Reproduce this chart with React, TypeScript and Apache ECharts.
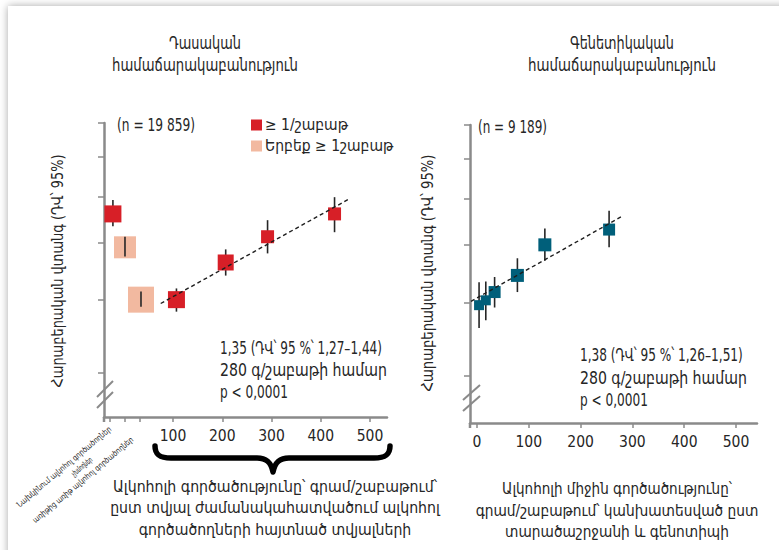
import React, { useEffect, useRef } from "react";
import * as echarts from "echarts";

// ---------- texts ----------
const leftTitle = ["Դասական", "համաճարակաբանություն"];
const rightTitle = ["Գենետիկական", "համաճարակաբանություն"];
const yAxisTitle = "Հարաբերական վտանգ (ԴՎ՝ 95%)";
const leftN = "(n = 19 859)";
const rightN = "(n = 9 189)";
const legendRed = "≥ 1/շաբաթ";
const legendPeach = "Երբեք ≥ 1շաբաթ";
const leftNote = ["1,35 (ԴՎ՝ 95 %՝ 1,27–1,44)", "280 գ/շաբաթի համար", "p < 0,0001"];
const rightNote = ["1,38 (ԴՎ՝ 95 %՝ 1,26–1,51)", "280 գ/շաբաթի համար", "p < 0,0001"];
const leftXTitle = [
  "Ալկոհոլի գործածությունը՝ գրամ/շաբաթում՝",
  "ըստ տվյալ ժամանակահատվածում ալկոհոլ",
  "գործածողների հայտնած տվյալների",
];
const rightXTitle = [
  "Ալկոհոլի միջին գործածությունը՝",
  "գրամ/շաբաթում՝ կանխատեսված ըստ",
  "տարածաշրջանի և գենոտիպի",
];
const categoryLabels = [
  "Նախկինում ալկոհոլ գործածողներ",
  "չխմողներ",
  "առիթից առիթ ալկոհոլ գործածողներ",
];

// ---------- axes ----------
const xLabelValues = [100, 200, 300, 400, 500];
const rightXLabelValues = [0, 100, 200, 300, 400, 500];
const leftXTicks = [-28, 2.5, 33, 100, 200, 300, 400, 500];
const yTickRR = [0.75, 1, 1.25, 1.5, 1.75, 2];
const leftXRange = [-40.1, 534.5];
const rightXRange = [-13.5, 540.5];
const leftYRange = [0.631, 2.0];
const rightYRange = [0.624, 2.0];

// ---------- data: classical epidemiology ----------
// former drinkers, then grams/week groups
const leftRedX = [-22, 107, 207, 292, 428];
const leftRedRR = [1.4, 1.0, 1.157, 1.28, 1.4];
const leftRedLo = [1.334, 0.954, 1.099, 1.199, 1.303];
const leftRedHi = [1.478, 1.045, 1.218, 1.366, 1.495];
const leftRedBox = [17, 17, 16, 13, 13];
// never drinkers, occasional drinkers
const leftPeachX = [2.5, 35];
const leftPeachRR = [1.228, 1.0];
const leftPeachLo = [1.185, 0.973];
const leftPeachHi = [1.28, 1.032];
const leftPeachBox = [22, 26];
const leftFitX = [75, 456];
const leftFitRR = [0.985, 1.482];

// ---------- data: genetic epidemiology ----------
const rightX = [4, 17, 34, 78, 131, 255];
const rightRR = [0.989, 1.008, 1.041, 1.111, 1.252, 1.329];
const rightLo = [0.905, 0.932, 0.98, 1.041, 1.177, 1.24];
const rightHi = [1.082, 1.085, 1.104, 1.188, 1.335, 1.43];
const rightBox = [10, 10, 12, 13, 13, 12];
const rightFitX = [-11.6, 279];
const rightFitRR = [1.004, 1.398];

const RED = "#d71f27";
const PEACH = "#f2b9a0";
const TEAL = "#005f7a";
const AXIS = "#8a8a8a";
const TEXT = "#262626";
const FONT = "'DejaVu Sans Condensed', 'DejaVu Sans', sans-serif";

const L = (v: number) => Math.log10(v);

echarts.graphic.registerShape(
  "brace",
  echarts.graphic.extendPath(
    "M2,0 C2,9 7,12 18,12 L104,12 C113,12 118,16 120,26 C122,16 127,12 136,12 L221,12 C232,12 237,9 237,0",
    {}
  )
);

let ctx: CanvasRenderingContext2D | null = null;
function measure(t: string, size: number) {
  if (!ctx) ctx = document.createElement("canvas").getContext("2d");
  if (!ctx) return t.length * size * 0.55;
  ctx.font = `${size}px ${FONT}`;
  return ctx.measureText(t).width;
}

function boxes(xs: number[], rr: number[], size: number[]) {
  return xs.map((x, i) => ({ value: [x, L(rr[i])], symbolSize: size[i] }));
}
function bars(xs: number[], lo: number[], hi: number[]) {
  return xs.map((x, i) => [x, L(lo[i]), L(hi[i])]);
}
function fit(xs: number[], rr: number[]) {
  return xs.map((x, i) => [x, L(rr[i])]);
}

const errRender = (params: any, api: any) => {
  const x = api.value(0);
  const p1 = api.coord([x, api.value(1)]);
  const p2 = api.coord([x, api.value(2)]);
  return {
    type: "line",
    shape: { x1: p1[0], y1: p1[1], x2: p2[0], y2: p2[1] },
    style: { stroke: "#262626", lineWidth: 1.6 },
  };
};

function xAxisCfg(range: number[], labels: number[], ticks: number[]) {
  return {
    type: "value",
    min: range[0],
    max: range[1],
    axisLine: { show: true, onZero: false, lineStyle: { color: AXIS, width: 2.5 } },
    axisTick: { show: true, customValues: ticks, length: 5, lineStyle: { color: AXIS, width: 1.5 } },
    axisLabel: { customValues: labels, fontSize: 15.5, color: TEXT, margin: 11, fontFamily: FONT },
    splitLine: { show: false },
  };
}
function yAxisCfg(range: number[], gridIndex: number) {
  return {
    type: "value",
    gridIndex,
    min: L(range[0]),
    max: L(range[1]),
    axisLine: { show: true, onZero: false, lineStyle: { color: AXIS, width: 2.5 } },
    axisTick: { show: true, customValues: yTickRR.map(L), length: 6, lineStyle: { color: AXIS, width: 1.5 } },
    axisLabel: { show: false },
    splitLine: { show: false },
  };
}

// one text line squeezed to the reference's condensed width
function fitText(text: string, x: number, y: number, align: string, size: number, width: number, rotation = 0) {
  const w = measure(text, size);
  return {
    type: "text",
    x,
    y,
    rotation,
    scaleX: w > 0 ? width / w : 1,
    z: 10,
    style: { text, fill: TEXT, fontSize: size, fontFamily: FONT, align, verticalAlign: "middle" },
  };
}
function block(lines: string[], x: number, y0: number, lh: number, align: string, size: number, widths: number[]) {
  return lines.map((t, i) => fitText(t, x, y0 + i * lh, align, size, widths[i]));
}

export default function App() {
  const ref = useRef<HTMLDivElement>(null);
  useEffect(() => {
    if (!ref.current) return;
    const chart = echarts.init(ref.current, null, { renderer: "svg" });
    const ang = (40 * Math.PI) / 180;
    const catPos = [
      [64, 467],
      [82, 467],
      [83, 480],
    ];
    const catWidths = [121, 25, 129];
    const option: any = {
      animation: false,
      backgroundColor: "transparent",
      grid: [
        { left: 104, top: 123, width: 283, height: 294 },
        { left: 470, top: 125, width: 287, height: 298 },
      ],
      xAxis: [
        { ...xAxisCfg(leftXRange, xLabelValues, leftXTicks), gridIndex: 0 },
        { ...xAxisCfg(rightXRange, rightXLabelValues, rightXLabelValues), gridIndex: 1 },
      ],
      yAxis: [yAxisCfg(leftYRange, 0), yAxisCfg(rightYRange, 1)],
      legend: {
        data: [legendRed, legendPeach],
        orient: "vertical",
        left: 251,
        top: 115,
        padding: 0,
        icon: "rect",
        itemWidth: 11,
        itemHeight: 11,
        itemGap: 1,
        textStyle: { fontSize: 15.5, color: TEXT, fontFamily: FONT, lineHeight: 20, padding: [0, 0, 0, -2] },
      },
      series: [
        {
          type: "custom",
          name: "redErr",
          xAxisIndex: 0,
          yAxisIndex: 0,
          z: 1,
          renderItem: errRender,
          encode: { x: 0, y: [1, 2] },
          data: bars(leftRedX, leftRedLo, leftRedHi),
        },
        {
          type: "scatter",
          name: legendRed,
          xAxisIndex: 0,
          yAxisIndex: 0,
          symbol: "rect",
          z: 2,
          itemStyle: { color: RED, opacity: 1 },
          data: boxes(leftRedX, leftRedRR, leftRedBox),
        },
        {
          type: "scatter",
          name: legendPeach,
          xAxisIndex: 0,
          yAxisIndex: 0,
          symbol: "rect",
          z: 2,
          itemStyle: { color: PEACH, opacity: 1 },
          data: boxes(leftPeachX, leftPeachRR, leftPeachBox),
        },
        {
          type: "custom",
          name: "peachErr",
          xAxisIndex: 0,
          yAxisIndex: 0,
          z: 3,
          renderItem: errRender,
          encode: { x: 0, y: [1, 2] },
          data: bars(leftPeachX, leftPeachLo, leftPeachHi),
        },
        {
          type: "line",
          name: "leftFit",
          xAxisIndex: 0,
          yAxisIndex: 0,
          z: 4,
          symbol: "none",
          lineStyle: { color: "#1e1e1e", width: 1.4, type: [4, 3] },
          data: fit(leftFitX, leftFitRR),
        },
        {
          type: "custom",
          name: "tealErr",
          xAxisIndex: 1,
          yAxisIndex: 1,
          z: 1,
          renderItem: errRender,
          encode: { x: 0, y: [1, 2] },
          data: bars(rightX, rightLo, rightHi),
        },
        {
          type: "scatter",
          name: "genetic",
          xAxisIndex: 1,
          yAxisIndex: 1,
          symbol: "rect",
          z: 2,
          itemStyle: { color: TEAL, opacity: 1 },
          data: boxes(rightX, rightRR, rightBox),
        },
        {
          type: "line",
          name: "rightFit",
          xAxisIndex: 1,
          yAxisIndex: 1,
          z: 4,
          symbol: "none",
          lineStyle: { color: "#1e1e1e", width: 1.4, type: [4, 3] },
          data: fit(rightFitX, rightFitRR),
        },
      ],
      graphic: [
        ...block(leftTitle, 205, 43, 22, "center", 17, [72, 186]),
        ...block(rightTitle, 622, 43, 22, "center", 17, [104, 188]),
        fitText(leftN, 117, 125, "left", 17, 78),
        fitText(rightN, 478, 127, "left", 17, 69),
        ...block(leftNote, 220, 348, 22, "left", 18, [162, 167, 68]),
        ...block(rightNote, 580, 355, 22.5, "left", 18, [163, 167, 68]),
        ...block(leftXTitle, 275, 486, 21.5, "center", 16, [324, 330, 273]),
        ...block(rightXTitle, 617, 489, 21, "center", 16, [230, 283, 224]),
        fitText(yAxisTitle, 58, 271, "center", 16, 233, Math.PI / 2),
        fitText(yAxisTitle, 428, 273, "center", 16, 237, Math.PI / 2),
        ...categoryLabels.map((t, i) => fitText(t, catPos[i][0], catPos[i][1], "center", 8, catWidths[i], ang)),
        {
          type: "brace",
          x: 153,
          y: 446,
          z: 10,
          style: { fill: "none", stroke: "#000", lineWidth: 5.5, lineCap: "round", lineJoin: "round" },
        },
        ...[
          [97, 397, 113, 381],
          [97, 408, 113, 392],
          [463, 400, 480, 385],
          [463, 411, 480, 396],
          [104, 417, 104, 422],
          [470, 423, 470, 428],
        ].map((s) => ({
          type: "line",
          z: 10,
          shape: { x1: s[0], y1: s[1], x2: s[2], y2: s[3] },
          style: { stroke: AXIS, lineWidth: s[0] === s[2] ? 2.5 : 2 },
        })),
      ],
    };
    chart.setOption(option);
    return () => chart.dispose();
  }, []);
  return (
    <div style={{ position: "fixed", left: 0, top: 0, width: 779, height: 550, background: "#fff", overflow: "hidden" }}>
      <div
        style={{
          position: "absolute",
          left: 8,
          top: 6,
          right: -20,
          bottom: -20,
          background: "#fff",
          boxShadow: "0 0 8px rgba(0,0,0,0.35)",
        }}
      />
      <div ref={ref} style={{ position: "absolute", left: 0, top: 0, width: 779, height: 550 }} />
    </div>
  );
}
